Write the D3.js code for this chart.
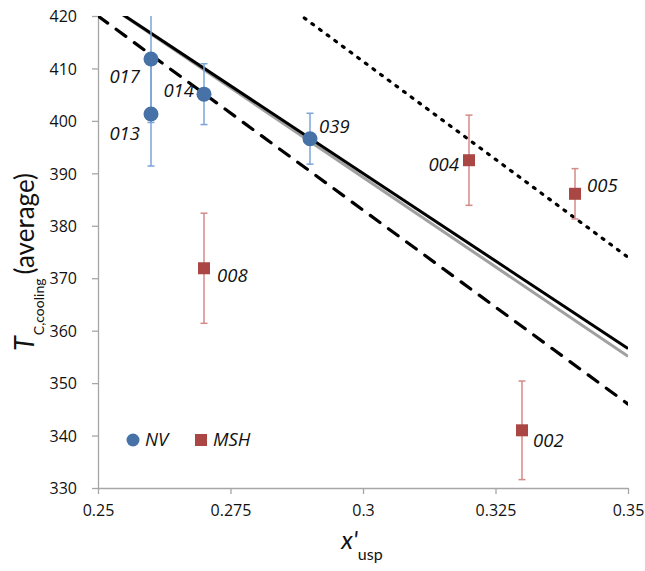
<!DOCTYPE html>
<html>
<head>
<meta charset="utf-8">
<script src="https://cdn.jsdelivr.net/npm/d3@7"></script>
<style>
  html, body { margin: 0; padding: 0; background: #fff; }
  svg { display: block; }
  text { font-family: "Open Sans", "Lato", sans-serif; fill: #111; }
</style>
</head>
<body>
<script>
// ---- data ----
const xTicks = [0.25, 0.275, 0.3, 0.325, 0.35];
const xTickLabels = ["0.25", "0.275", "0.3", "0.325", "0.35"];
const yTicks = [330, 340, 350, 360, 370, 380, 390, 400, 410, 420];

const nvNames = ["017", "013", "014", "039"];
const nvX = [0.26, 0.26, 0.27, 0.29];
const nvY = [411.8, 401.3, 405.1, 396.6];
const nvErr = [12.1, 9.9, 5.8, 4.85];

const mshNames = ["008", "004", "005", "002"];
const mshX = [0.27, 0.32, 0.34, 0.33];
const mshY = [371.9, 392.5, 386.1, 341.0];
const mshErr = [10.5, 8.6, 4.8, 9.4];

const lineX = [0.25, 0.35];
const grayLine = [423.4, 355.1];
const solidLine = [423.4, 356.6];
const dashedLine = [420.0, 346.0];
const dottedLine = [448.7, 374.0];

// label placement (pixel offsets from the marker)
const labelPos = {
  "017": {dx: -11, dy: 24, anchor: "end"},
  "013": {dx: -11, dy: 26, anchor: "end"},
  "014": {dx: -10, dy: 3, anchor: "end"},
  "039": {dx: 9, dy: -6, anchor: "start"},
  "008": {dx: 13, dy: 14, anchor: "start"},
  "004": {dx: -10, dy: 11, anchor: "end"},
  "005": {dx: 12, dy: -2, anchor: "start"},
  "002": {dx: 11, dy: 17, anchor: "start"}
};

// ---- layout ----
const W = 645, H = 571;
const L = 98, R = 628, T = 16, B = 488;
const blue = "#4672A8", blueErr = "#7BA3D8";
const red = "#AA4643", redErr = "#D58B89";
const axisCol = "#A6A6A6";

const x = d3.scaleLinear().domain([0.25, 0.35]).range([L, R]);
const y = d3.scaleLinear().domain([330, 420]).range([B, T]);

const svg = d3.select("body").append("svg").attr("width", W).attr("height", H);

svg.append("clipPath").attr("id", "plot")
  .append("rect").attr("x", L).attr("y", T).attr("width", R - L).attr("height", B - T);

// axes
const xAxis = d3.axisBottom(x).tickValues(xTicks).tickFormat((d, i) => xTickLabels[i]).tickSize(6).tickSizeOuter(0);
const gx = svg.append("g").attr("transform", `translate(0,${B})`).call(xAxis);
const yAxis = d3.axisLeft(y).tickValues(yTicks).tickFormat(d3.format("d")).tickSize(6).tickSizeOuter(0);
const gy = svg.append("g").attr("transform", `translate(${L},0)`).call(yAxis);
[gx, gy].forEach(g => {
  g.select(".domain").attr("stroke", axisCol).attr("stroke-width", 1.3);
  g.selectAll(".tick line").attr("stroke", axisCol).attr("stroke-width", 1.3);
  g.selectAll(".tick text").attr("fill", "#111").style("font-family", '"Open Sans", sans-serif').style("font-size", "16px");
});
gx.selectAll(".tick text").attr("y", 17);
gy.selectAll(".tick text").attr("x", -21).attr("dy", "0.36em");

// lines
const plot = svg.append("g").attr("clip-path", "url(#plot)");
const lineGen = vals => d3.line().x((d, i) => x(lineX[i])).y(d => y(d))(vals);
plot.append("path").attr("d", lineGen(grayLine)).attr("stroke", "#A0A0A0").attr("stroke-width", 3).attr("fill", "none");
plot.append("path").attr("d", lineGen(solidLine)).attr("stroke", "#000").attr("stroke-width", 3).attr("fill", "none");
plot.append("path").attr("d", lineGen(dashedLine)).attr("stroke", "#000").attr("stroke-width", 3.2).attr("fill", "none")
  .attr("stroke-linecap", "round").attr("stroke-dasharray", "12,10.5");
plot.append("path").attr("d", lineGen(dottedLine)).attr("stroke", "#000").attr("stroke-width", 3.2).attr("fill", "none")
  .attr("stroke-linecap", "round").attr("stroke-dasharray", "2,7.5");

// error bars
function errBars(xs, ys, es, col) {
  const g = plot.append("g").attr("stroke", col).attr("stroke-width", 1.5);
  xs.forEach((xv, i) => {
    const cx = x(xv), y1 = y(ys[i] + es[i]), y2 = y(ys[i] - es[i]);
    g.append("line").attr("x1", cx).attr("x2", cx).attr("y1", y1).attr("y2", y2);
    g.append("line").attr("x1", cx - 3.5).attr("x2", cx + 3.5).attr("y1", y1).attr("y2", y1);
    g.append("line").attr("x1", cx - 3.5).attr("x2", cx + 3.5).attr("y1", y2).attr("y2", y2);
  });
}
errBars(nvX, nvY, nvErr, blueErr);
errBars(mshX, mshY, mshErr, redErr);

// markers
svg.append("g").selectAll("circle").data(nvX).join("circle")
  .attr("cx", d => x(d)).attr("cy", (d, i) => y(nvY[i])).attr("r", 7.5).attr("fill", blue);
svg.append("g").selectAll("rect").data(mshX).join("rect")
  .attr("x", d => x(d) - 6).attr("y", (d, i) => y(mshY[i]) - 6).attr("width", 12).attr("height", 12).attr("fill", red);

// labels
function labels(names, xs, ys) {
  names.forEach((n, i) => {
    const p = labelPos[n];
    svg.append("text").attr("x", x(xs[i]) + p.dx).attr("y", y(ys[i]) + p.dy)
      .attr("text-anchor", p.anchor).style("font-style", "italic").style("font-size", "18.5px").text(n);
  });
}
labels(nvNames, nvX, nvY);
labels(mshNames, mshX, mshY);

// legend
const lg = svg.append("g");
lg.append("circle").attr("cx", 133).attr("cy", 440).attr("r", 6.5).attr("fill", blue);
lg.append("text").attr("x", 145).attr("y", 446).style("font-style", "italic").style("font-size", "18.5px").text("NV");
lg.append("rect").attr("x", 195).attr("y", 434).attr("width", 12).attr("height", 12).attr("fill", red);
lg.append("text").attr("x", 213).attr("y", 446).style("font-style", "italic").style("font-size", "18.5px").text("MSH");

// y title
const yt = svg.append("text").attr("transform", "translate(34,262) rotate(-90)").attr("text-anchor", "middle")
  .style("font-family", '"Lato", sans-serif');
yt.append("tspan").style("font-style", "italic").style("font-size", "27px").text("T");
yt.append("tspan").attr("dy", 10).attr("dx", 1).style("font-size", "14px").text("C,cooling");
yt.append("tspan").attr("dy", -10).attr("dx", 4).style("font-size", "26px").text("(average)");

// x title
const xt = svg.append("text").attr("x", 362).attr("y", 549).attr("text-anchor", "middle")
  .style("font-family", '"Lato", sans-serif');
xt.append("tspan").style("font-style", "italic").style("font-size", "25px").text("x'");
xt.append("tspan").attr("dy", 11).style("font-size", "16px").text("usp");
</script>
</body>
</html>
